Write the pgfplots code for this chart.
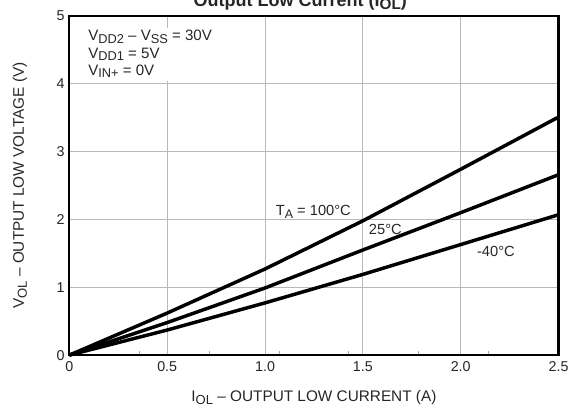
\documentclass[border=0pt]{standalone}
\usepackage{pgfplots}
\pgfplotsset{compat=1.18}
\usepackage{fontspec}
\setmainfont{Liberation Sans}
\usetikzlibrary{calc}
\newcommand\sub[1]{\raisebox{-0.35ex}{\scalebox{0.85}{#1}}}
\begin{document}
\begin{tikzpicture}
\begin{axis}[
  scale only axis,
  width=366.75pt, height=254.25pt,
  xmin=0, xmax=2.5, ymin=0, ymax=5,
  xtick={0,0.5,1,1.5,2,2.5},
  xticklabels={0,0.5,1.0,1.5,2.0,2.5},
  ytick={0,1,2,3,4,5},
  minor xtick={0.35714,0.71429,1.07143,1.42857,1.78571,2.14286},
  tick style={draw=none},
  minor tick style={draw=gray!70, line width=0.6pt},
  minor tick length=3pt,
  tick align=inside,
  xtick pos=bottom, ytick pos=left,
  grid=major,
  major grid style={draw=black!28, line width=0.7pt},
  axis line style={line width=1.6pt, black},
  /pgf/number format/assume math mode=true,
  tick label style={font=\fontsize{10.7}{12}\selectfont, text=black!85},
  xticklabel style={yshift=-1.5pt},
  yticklabel style={xshift=0pt},
  label style={font=\fontsize{11.5}{13}\selectfont, text=black!85},
  xlabel={I\sub{OL} – OUTPUT LOW CURRENT (A)},
  ylabel={V\sub{OL} – OUTPUT LOW VOLTAGE (V)},
  xlabel style={at={(rel axis cs:0.5,0)}, anchor=base, yshift=-35pt},
  ylabel style={at={(rel axis cs:0,0.5)}, anchor=center, yshift=37pt},
  clip=false,
]
\coordinate (sw) at (rel axis cs:0,0);
\coordinate (ne) at (rel axis cs:1,1);
\coordinate (tt) at (rel axis cs:0.472,1);
\addplot[line width=2.6pt, black] coordinates {(0,0) (0.5,0.62) (1,1.27) (1.5,1.98) (2,2.74) (2.5,3.51)};
\addplot[line width=2.6pt, black] coordinates {(0,0) (0.5,0.48) (1,0.99) (1.5,1.55) (2,2.10) (2.5,2.66)};
\addplot[line width=2.6pt, black] coordinates {(0,0) (0.5,0.37) (1,0.77) (1.5,1.19) (2,1.63) (2.5,2.07)};
\node[font=\fontsize{11}{12}\selectfont, text=black!85] at (axis cs:1.247,2.11) {T\sub{A} = 100°C};
\node[font=\fontsize{11}{12}\selectfont, text=black!85] at (axis cs:1.615,1.86) {25°C};
\node[font=\fontsize{11}{12}\selectfont, text=black!85] at (axis cs:2.18,1.53) {-40°C};
\node[fill=white, inner sep=2pt, anchor=north west, align=left,
      font=\fontsize{11.3}{12.8}\selectfont, text=black!85] at (axis cs:0.082,4.83)
  {V\sub{DD2} – V\sub{SS} = 30V\\ V\sub{DD1} = 5V\\ V\sub{IN+} = 0V};
\end{axis}
\node[anchor=base, font=\bfseries\fontsize{13.5}{15}\selectfont, text=black!85] at ($(tt)+(0,7.1pt)$) {Output Low Current (I\sub{OL})};
\pgfresetboundingbox
\path[use as bounding box] ($(sw)+(-52pt,-38.25pt)$) rectangle ($(ne)+(7.1pt,12pt)$);
\end{tikzpicture}
\end{document}
